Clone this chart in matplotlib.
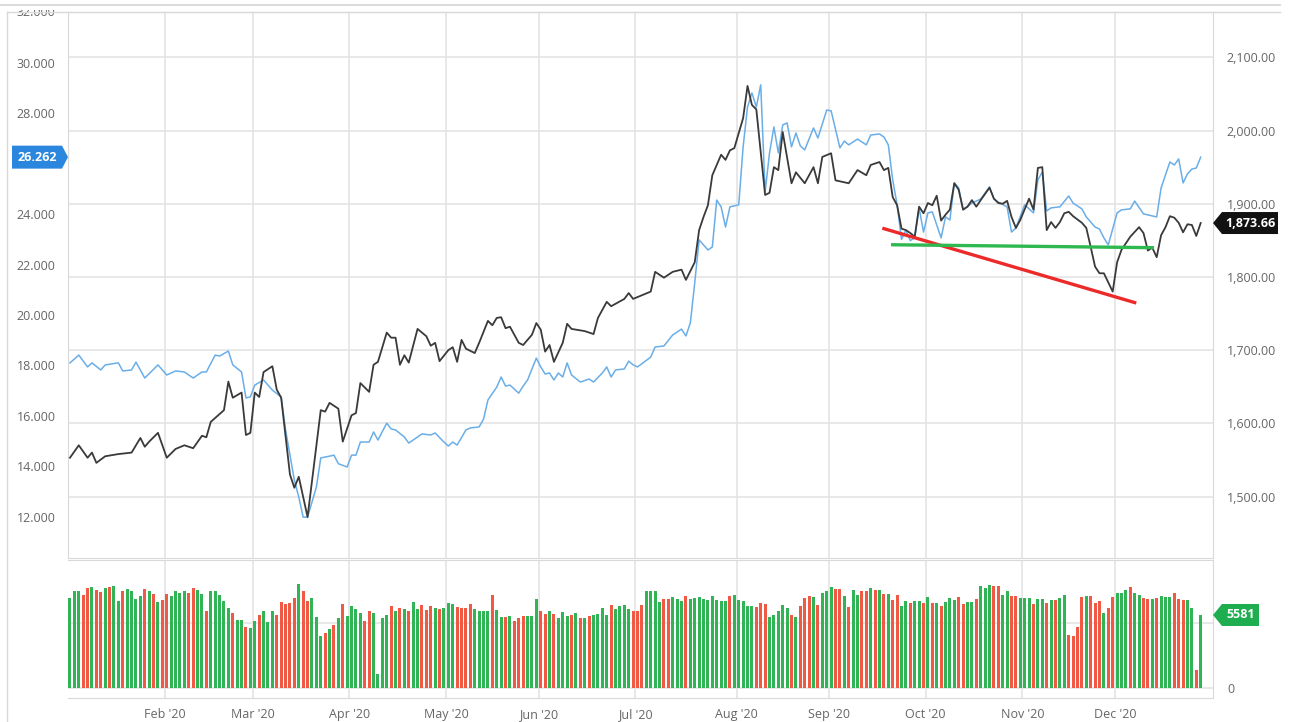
import numpy as np
import pandas as pd
import matplotlib
matplotlib.use("Agg")
import matplotlib.pyplot as plt
from matplotlib.patches import Polygon
from matplotlib.lines import Line2D
from matplotlib.transforms import Bbox, TransformedBbox, IdentityTransform, blended_transform_factory

plt.rcParams['font.family'] = ['Open Sans', 'DejaVu Sans']

# trading sessions (weekdays); the chart uses an ordinal x axis
sessions = pd.bdate_range("2020-01-02", "2020-12-28")

# gold (right axis), read at session index
gold_sess = [0, 2, 4, 5, 6, 8, 11, 14, 16, 17, 18, 20, 22, 24, 26, 28, 30, 31, 32, 35,
             36, 37, 39, 40, 41, 42, 43, 44, 46, 47, 48, 50, 51, 52, 54, 57, 58, 59, 61, 62,
             64, 65, 66, 68, 69, 70, 72, 73, 74, 75, 76, 77, 79, 81, 82, 83, 84, 86, 87, 88,
             89, 90, 92, 93, 95, 96, 97, 98, 99, 100, 102, 103, 105, 106, 107, 108, 109, 110, 112, 113,
             114, 117, 119, 120, 122, 123, 126, 127, 128, 130, 132, 133, 135, 137, 139, 140, 142, 143, 144, 145,
             146, 148, 149, 150, 151, 153, 154, 155, 156, 158, 159, 160, 161, 162, 164, 165, 167, 169, 170, 171,
             173, 174, 177, 179, 181, 182, 184, 185, 186, 187, 188, 189, 190, 191, 192, 193, 194, 195, 196, 197,
             198, 199, 200, 201, 202, 203, 204, 205, 206, 207, 209, 210, 211, 212, 213, 214, 215, 216, 218, 219,
             220, 221, 222, 223, 224, 225, 226, 227, 228, 230, 231, 232, 233, 234, 235, 237, 238, 239, 240, 241,
             243, 244, 245, 246, 247, 248, 249, 250, 251, 252, 253, 254, 255, 256, 257]
gold = [1553, 1570, 1553, 1560, 1546, 1555, 1558, 1560, 1580, 1568, 1575, 1587, 1553, 1565, 1570, 1566, 1583, 1581, 1602, 1618,
        1657, 1635, 1642, 1584, 1587, 1642, 1636, 1670, 1678, 1646, 1635, 1530, 1512, 1527, 1472, 1618, 1616, 1628, 1620, 1575,
        1611, 1614, 1655, 1643, 1680, 1684, 1724, 1717, 1717, 1680, 1693, 1683, 1729, 1719, 1706, 1710, 1685, 1700, 1704, 1684,
        1714, 1702, 1696, 1710, 1740, 1734, 1744, 1745, 1730, 1732, 1710, 1707, 1721, 1737, 1728, 1698, 1707, 1684, 1710, 1736,
        1729, 1726, 1722, 1744, 1766, 1760, 1770, 1778, 1770, 1775, 1780, 1807, 1799, 1807, 1810, 1796, 1820, 1864, 1882, 1898,
        1939, 1967, 1960, 1973, 1976, 2017, 2061, 2035, 2029, 1912, 1915, 1950, 1946, 1998, 1928, 1943, 1928, 1950, 1928, 1964,
        1969, 1932, 1928, 1946, 1939, 1953, 1957, 1946, 1949, 1909, 1898, 1866, 1864, 1860, 1855, 1896, 1887, 1901, 1898, 1911,
        1877, 1885, 1892, 1928, 1919, 1892, 1896, 1905, 1896, 1905, 1922, 1907, 1901, 1900, 1904, 1882, 1867, 1878, 1907, 1892,
        1949, 1950, 1864, 1875, 1867, 1875, 1887, 1889, 1883, 1874, 1867, 1841, 1814, 1805, 1805, 1780, 1820, 1837, 1846, 1855,
        1868, 1860, 1836, 1840, 1827, 1857, 1868, 1883, 1881, 1874, 1861, 1872, 1871, 1856, 1873.66]

# silver (left axis)
silver_sess = [0, 2, 4, 5, 7, 8, 11, 12, 14, 15, 17, 20, 22, 24, 26, 28, 30, 31, 33, 34,
               36, 37, 39, 40, 41, 42, 44, 46, 48, 49, 51, 52, 53, 54, 56, 57, 59, 60, 61, 63,
               64, 65, 66, 68, 69, 70, 72, 73, 74, 76, 77, 80, 82, 83, 85, 86, 87, 88, 90, 91,
               93, 94, 95, 97, 98, 99, 100, 102, 103, 104, 106, 107, 108, 109, 110, 111, 112, 113, 114, 116,
               118, 119, 121, 122, 123, 124, 126, 127, 128, 129, 132, 133, 135, 137, 139, 140, 141, 142, 143, 145,
               146, 147, 148, 149, 150, 152, 153, 154, 155, 156, 157, 158, 159, 160, 161, 162, 163, 164, 165, 166,
               167, 169, 170, 172, 173, 175, 176, 177, 179, 181, 182, 184, 185, 186, 187, 188, 189, 190, 191, 192,
               193, 194, 195, 196, 198, 199, 200, 201, 202, 203, 205, 207, 209, 210, 211, 213, 214, 215, 217, 219,
               220, 221, 222, 223, 225, 227, 228, 230, 231, 233, 234, 235, 236, 238, 239, 241, 242, 244, 247, 248,
               250, 251, 252, 253, 254, 255, 256, 257]
silver = [18.10, 18.41, 17.94, 18.10, 17.82, 18.02, 18.10, 17.78, 17.82, 18.13, 17.50, 18.02, 17.62, 17.78, 17.74, 17.50, 17.74, 17.74, 18.41, 18.37,
          18.57, 18.02, 17.74, 16.71, 16.75, 17.22, 17.42, 17.02, 16.75, 15.44, 13.45, 12.78, 11.98, 11.98, 13.17, 14.33, 14.40, 14.44, 14.10, 13.97,
          14.44, 14.44, 14.96, 14.96, 15.36, 15.04, 15.71, 15.48, 15.44, 15.16, 14.92, 15.28, 15.24, 15.32, 14.96, 14.80, 14.96, 14.84, 15.44, 15.52,
          15.56, 15.87, 16.63, 17.14, 17.54, 17.18, 17.22, 16.90, 17.18, 17.42, 18.29, 17.94, 17.66, 17.70, 17.42, 17.70, 17.54, 18.10, 17.62, 17.34,
          17.46, 17.34, 17.70, 17.94, 17.54, 17.82, 17.86, 18.17, 18.02, 17.94, 18.33, 18.73, 18.77, 19.21, 19.44, 19.17, 19.68, 21.27, 22.98, 22.58,
          22.70, 24.56, 24.29, 23.49, 24.29, 24.37, 26.67, 28.25, 28.81, 28.25, 29.13, 24.88, 26.43, 27.46, 26.43, 27.54, 27.62, 26.67, 27.22, 26.71,
          26.55, 27.42, 27.02, 28.13, 28.10, 26.63, 26.90, 26.75, 26.98, 26.75, 27.14, 27.18, 27.06, 26.75, 25.36, 24.37, 23.00, 23.37, 22.95, 23.06,
          24.25, 23.29, 24.05, 24.09, 23.06, 23.89, 23.77, 25.24, 25.04, 24.17, 24.44, 24.60, 25.08, 24.60, 24.48, 24.29, 23.29, 23.45, 24.37, 24.05,
          25.36, 25.67, 24.13, 24.25, 24.29, 24.72, 24.44, 24.21, 23.89, 23.49, 23.41, 23.06, 22.78, 24.05, 24.17, 24.21, 24.52, 24.01, 23.89, 25.04,
          26.07, 25.95, 26.19, 25.24, 25.60, 25.79, 25.83, 26.262]

# daily volume, one per session, and bar colour (G up / R down)
volume = [6880, 7389, 7389, 7134, 7644, 7695, 7517, 7313, 7644, 7695,
          7771, 6676, 7440, 7568, 7440, 6803, 7058, 7568, 7389, 7185,
          6548, 6752, 7185, 7058, 7389, 7262, 7389, 7262, 7644, 7517,
          7185, 5911, 7389, 7440, 7134, 6625, 6115, 5733, 5172, 5172,
          4637, 4586, 5096, 5606, 5911, 5045, 5911, 5606, 6574, 6421,
          6497, 6880, 7975, 7440, 6676, 6880, 5427, 4000, 4204, 4535,
          4841, 5351, 6421, 5529, 6243, 6039, 5733, 5096, 5860, 5733,
          1070, 5351, 5606, 6243, 5860, 6115, 6039, 5911, 6548, 6039,
          6370, 5988, 6294, 6115, 6039, 6115, 6497,
          6446, 6192, 6115, 6115, 6421, 6064, 5860, 5860, 5860, 7134,
          5937, 5427, 5402, 5478, 5096, 5351, 5478, 5478, 5478, 6829,
          5911, 5657, 5860, 5657, 5351, 5809, 5529, 5606, 5733, 5351,
          5351, 5478, 5606, 5682, 6115, 5606, 6370, 6039, 6294, 6345,
          6064, 5860, 5911, 6370, 7440, 7389, 7389, 6548, 6829, 6829,
          6931, 6803, 6625, 7007, 6829, 6880, 6931, 6803, 6752, 7007,
          6701, 6625, 6625, 7007, 7083, 6752, 6625, 6294, 6294, 6192,
          6497, 6446, 5427, 5606, 5860, 6370, 6115, 5606, 5427, 6294,
          6880, 7007, 6931, 6370, 7262, 7389, 7720, 7568, 7568, 7058,
          6192,
          7517, 7134, 7389, 7389, 7644, 7517, 7466, 7185, 7185, 6752,
          7134, 6294, 6625, 6497, 6625, 6625, 6497, 6931, 6497, 6497,
          6243, 6574, 6880, 6752, 6956, 6446, 6574, 6548, 6803, 7822,
          7644, 7848, 7822, 7822, 7134, 7440, 7007, 7058, 6880, 6880,
          6880, 6446, 6803, 6803, 6497, 6752, 6752, 6880, 7083, 4077,
          4000, 4637, 6956, 7058, 7007, 6497, 6676, 5733, 6115, 6956,
          7262, 7262, 7466, 7695, 7262, 7134, 6880, 6803, 6803, 6880,
          7058, 6956, 6956, 7262, 6803, 6752, 6752, 6115, 1401, 5581]
vol_dir = ("GGGRRGRRGR" "GGRGGGGRGR" "GRRGGGGRRG" "GRGGGGGRGG" "RGGRGGGRRR"
           "RRGRRGGGRG" "RGRGGGGRRG" "GGGRGRGRGG" "RRRGRGG"
           "GRRRRGGGGR" "GGRGRRRGGG" "RRGRGGGRGR" "GRGGGGRGGG" "GRRRGGG"
           "GRRGGGRGGG" "GGGGGGRGGG" "GGRRRGGGGG" "RGRRRGRGGG" "RRGR"
           "GGRRGRGRGR" "RGGRGGRGRG" "RGGGRRGGRG" "GGRRGGRRGG" "GRGGRGRGGR"
           "RRRGRRRGRR" "GGGRGGRRGR" "GGGRRRGGRG")

# drawn trend lines (session, gold price)
trend_sess, trend_val = [185, 242], [1866, 1765]
support_sess, support_val = [187, 246], [1844, 1840]

# the 26 and 5000 labels sit under the last-value flags, so they are left out
silver_ticks = [12, 14, 16, 18, 20, 22, 24, 28, 30]
gold_ticks = [1500, 1600, 1700, 1800, 1900, 2000, 2100]

grid_c = '#e4e4e4'
spine_c = '#d9d9d9'
label_c = '#666666'
up_c, down_c = '#30b455', '#f05a44'

W, H = 1293, 722
fig = plt.figure(figsize=(W / 100, H / 100), dpi=100)
L, R = 68, 1213
ax_s = fig.add_axes([L / W, 1 - 558 / H, (R - L) / W, (558 - 12) / H])
ax_g = ax_s.twinx()
ax_v = fig.add_axes([L / W, 1 - 698 / H, (R - L) / W, (698 - 560) / H], sharex=ax_s)

ax_s.set_xlim(-0.45, 259.8)
ax_s.set_ylim(10.36, 32.02)
ax_g.set_ylim(1416, 2162)
ax_v.set_ylim(-765, 9786)

# month ticks between the last session of a month and the first of the next
months = sessions.to_period('M')
first = np.flatnonzero(months[1:] != months[:-1]) + 1
mticks = first - 0.5
mlabels = [sessions[i].strftime("%b '%y") for i in first]

# grid
ax_s.set_axisbelow(True)
ax_s.set_xticks(mticks)
ax_s.grid(axis='x', color=grid_c, lw=1.2)
g0, g1 = ax_g.get_ylim()
s0, s1 = ax_s.get_ylim()
for g in gold_ticks:
    ax_s.axhline(s0 + (g - g0) / (g1 - g0) * (s1 - s0), color=grid_c, lw=1.2, zorder=0)

# series
ax_s.plot(silver_sess, silver, color='#6aaee8', lw=1.1, zorder=2)
ax_g.plot(gold_sess, gold, color='#3a3a3a', lw=1.3, zorder=2)
ax_g.plot(trend_sess, trend_val, color='#ec2a2a', lw=2.4, zorder=3)
ax_g.plot(support_sess, support_val, color='#2fb84f', lw=2.4, zorder=3)

# ticks
ax_s.set_yticks(silver_ticks)
ax_s.set_yticklabels([f"{v:.3f}" for v in silver_ticks])
ax_s.tick_params(axis='y', length=0, labelsize=9, labelcolor=label_c, pad=9)
ax_s.tick_params(axis='x', length=0, labelbottom=False)
ax_g.set_yticks(gold_ticks)
ax_g.set_yticklabels([f"{v:,.2f}" for v in gold_ticks])
ax_g.tick_params(axis='y', length=0, labelsize=9, labelcolor=label_c, pad=10)

top_lbl = ax_s.text(-13 / (R - L), 32, "32.000", transform=blended_transform_factory(ax_s.transAxes, ax_s.transData),
                    ha='right', va='center', fontsize=9, color=label_c, clip_on=True)
top_lbl.set_clip_box(TransformedBbox(Bbox.from_extents(0, 0, W, H - 10), IdentityTransform()))

for sp in ax_s.spines.values():
    sp.set_color(spine_c)
for sp in ax_g.spines.values():
    sp.set_visible(False)

# volume
x = np.arange(len(volume))
ax_v.bar(x, volume, width=0.68, color=[up_c if c == 'G' else down_c for c in vol_dir], zorder=2)
ax_v.set_axisbelow(True)
ax_v.grid(axis='x', color=grid_c, lw=1.2)
ax_v.set_yticks([0, 5000])
ax_v.set_yticklabels(["0", ""])
ax_v.grid(axis='y', color=grid_c, lw=1.2)
ax_v.yaxis.tick_right()
ax_v.tick_params(axis='y', length=0, labelsize=9, labelcolor=label_c, pad=10)
ax_v.set_xticks(mticks)
ax_v.set_xticklabels(mlabels)
ax_v.tick_params(axis='x', length=0, labelsize=9, labelcolor=label_c, pad=7)
ax_v.spines['left'].set_visible(False)
for k in ('top', 'right', 'bottom'):
    ax_v.spines[k].set_color(spine_c)

# outer frame
fig.add_artist(Line2D([0, 1280 / W], [1 - 5 / H] * 2, color='#dcdcdc', lw=1.5))
fig.add_artist(Line2D([7 / W, 1280 / W], [1 - 12 / H] * 2, color=spine_c, lw=1))
fig.add_artist(Line2D([7 / W, 7 / W], [0, 1 - 12 / H], color=spine_c, lw=1))


def flag_right(ax, val, text, color, x_end):
    yc = ax.transData.transform((0, val))[1]
    pts = [(R, yc), (R + 9, yc + 11), (x_end, yc + 11), (x_end, yc - 11), (R + 9, yc - 11)]
    fig.add_artist(Polygon(pts, closed=True, transform=IdentityTransform(), facecolor=color, edgecolor='none'))
    fig.text((R + 9 + x_end) / 2, yc, text, transform=IdentityTransform(), ha='center', va='center',
             fontsize=9, fontweight='bold', color='white')


def flag_left(ax, val, text, color):
    yc = ax.transData.transform((0, val))[1]
    pts = [(12, yc + 11.5), (62, yc + 11.5), (L, yc), (62, yc - 11.5), (12, yc - 11.5)]
    fig.add_artist(Polygon(pts, closed=True, transform=IdentityTransform(), facecolor=color, edgecolor='none'))
    fig.text(37, yc, text, transform=IdentityTransform(), ha='center', va='center',
             fontsize=9, fontweight='bold', color='white')


flag_left(ax_s, silver[-1], f"{silver[-1]:.3f}", '#2b87dd')
flag_right(ax_g, gold[-1], f"{gold[-1]:,.2f}", '#111111', 1278)
flag_right(ax_v, volume[-1], f"{volume[-1]}", '#1fae4f', 1259)

fig.savefig("out.png", dpi=100)
